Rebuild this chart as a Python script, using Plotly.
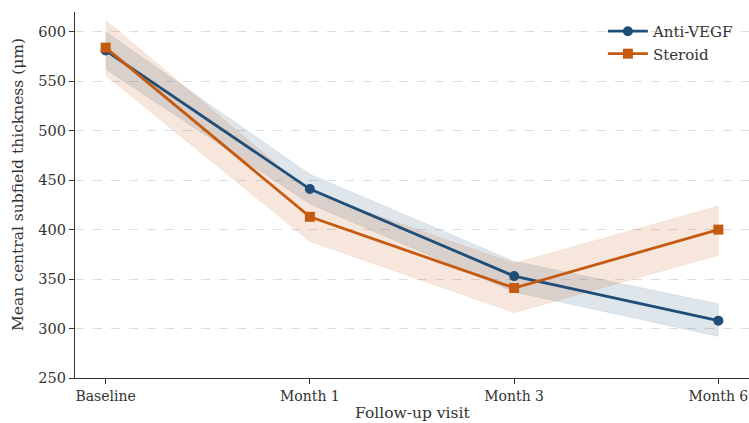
import plotly.graph_objects as go

visits = ["Baseline", "Month 1", "Month 3", "Month 6"]
anti_vegf = [581, 441, 353, 308]
anti_vegf_lo = [562, 426, 337, 292]
anti_vegf_hi = [600, 456, 368, 325]
steroid = [584, 413, 341, 400]
steroid_lo = [556, 388, 316, 374]
steroid_hi = [612, 438, 366, 424]
yticks = [250, 300, 350, 400, 450, 500, 550, 600]

BLUE = "#1F4E79"
ORANGE = "#C55A11"
xs = list(range(len(visits)))

fig = go.Figure()

def band(lo, hi, color_rgba):
    fig.add_trace(go.Scatter(x=xs + xs[::-1], y=hi + lo[::-1], fill="toself",
                             fillcolor=color_rgba, line=dict(width=0.5, color=color_rgba),
                             hoverinfo="skip", showlegend=False, mode="lines"))

band(anti_vegf_lo, anti_vegf_hi, "rgba(31,78,121,0.15)")
band(steroid_lo, steroid_hi, "rgba(197,90,17,0.15)")

fig.add_trace(go.Scatter(x=xs, y=anti_vegf, name="Anti-VEGF", mode="lines+markers",
                         line=dict(color=BLUE, width=2.8),
                         marker=dict(symbol="circle", size=10, color=BLUE)))
fig.add_trace(go.Scatter(x=xs, y=steroid, name="Steroid", mode="lines+markers",
                         line=dict(color=ORANGE, width=2.8),
                         marker=dict(symbol="square", size=10, color=ORANGE)))

font_family = "DejaVu Serif"
fig.update_layout(
    width=749, height=423,
    margin=dict(l=75, r=0, t=12, b=45),
    paper_bgcolor="white", plot_bgcolor="white",
    font=dict(family=font_family, size=14, color="#333333"),
    showlegend=True,
    legend=dict(x=0.985, y=0.992, xanchor="right", yanchor="top",
                bgcolor="rgba(0,0,0,0)", font=dict(size=15, color="#333333"),
                tracegroupgap=0, itemwidth=40),
    xaxis=dict(range=[-0.15, 3.15], tickmode="array", tickvals=xs, ticktext=visits,
               showgrid=False, zeroline=False, showline=True, linecolor="#333333",
               linewidth=1.2, ticks="outside", ticklen=5, tickcolor="#333333",
               tickfont=dict(size=14),
               automargin=False, ticklabeloverflow="allow"),
    yaxis=dict(range=[250, 620], tickmode="array", tickvals=yticks,
               showgrid=True, gridcolor="#dddddd", griddash="dash", gridwidth=1,
               zeroline=False, showline=True, linecolor="#333333", linewidth=1.2,
               ticks="outside", ticklen=5, tickcolor="#333333",
               tickfont=dict(size=14.5),
               automargin=False),
    annotations=[
        dict(text="Follow-up visit", xref="paper", yref="paper", x=0.5, y=-0.096,
             xanchor="center", yanchor="middle", showarrow=False,
             font=dict(size=15.5, color="#333333")),
        dict(text="Mean central subfield thickness (μm)", xref="paper", yref="paper",
             x=-0.0846, y=0.53, xanchor="center", yanchor="middle", textangle=-90,
             showarrow=False, font=dict(size=15.5, color="#333333")),
    ],
)

fig.write_html("out.html", config={"displayModeBar": False},
               post_script="document.body.style.margin='0';document.body.style.overflow='hidden';")
